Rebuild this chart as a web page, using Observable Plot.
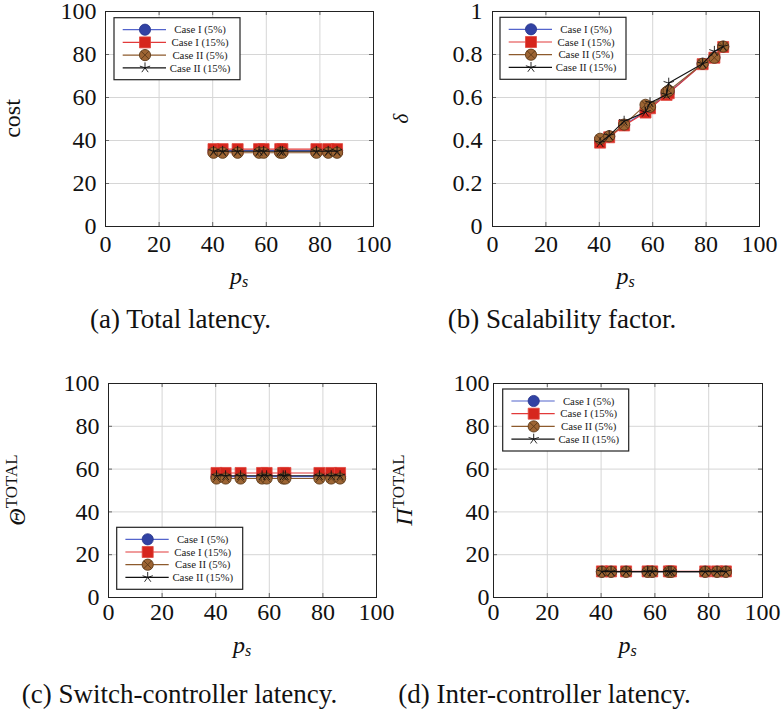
<!DOCTYPE html>
<html><head><meta charset="utf-8">
<script src="https://cdn.jsdelivr.net/npm/d3@7"></script>
<script src="https://cdn.jsdelivr.net/npm/@observablehq/plot@0.6"></script>
<style>
html,body{margin:0;padding:0;background:#fff;}
#root{position:relative;width:781px;height:710px;overflow:hidden;font-family:"Liberation Serif","Times New Roman",serif;color:#111;}
.panel{position:absolute;}
.cap{position:absolute;font-family:"Liberation Serif","Times New Roman",serif;font-size:27px;line-height:27px;white-space:nowrap;color:#111;transform:translateX(-50%);}
svg text, svg tspan{font-family:"Liberation Serif","Times New Roman",serif !important;}
</style></head><body><div id="root"></div>
<script>
// ---------- data ----------
const seriesNames = ["Case I (5%)", "Case I (15%)", "Case II (5%)", "Case II (15%)"];
const ps = [40.3, 43.7, 49.3, 57.3, 59.0, 65.2, 66.0, 78.7, 83.1, 86.4];

// (a) Total latency (cost)
const costCaseI5   = [35.3, 35.3, 35.3, 35.3, 35.3, 35.3, 35.3, 35.3, 35.3, 35.3];
const costCaseI15  = [36.0, 36.0, 36.0, 36.0, 36.0, 36.0, 36.0, 36.0, 36.0, 36.0];
const costCaseII5  = [34.3, 34.3, 34.3, 34.3, 34.3, 34.3, 34.3, 34.3, 34.3, 34.3];
const costCaseII15 = [35.0, 35.0, 35.0, 35.0, 35.0, 35.0, 35.0, 35.0, 35.0, 35.0];

// (b) Scalability factor (delta)
const deltaCaseI5   = [0.395, 0.418, 0.472, 0.535, 0.552, 0.617, 0.622, 0.757, 0.787, 0.836];
const deltaCaseI15  = [0.390, 0.415, 0.470, 0.530, 0.550, 0.612, 0.620, 0.755, 0.785, 0.835];
const deltaCaseII5  = [0.408, 0.420, 0.474, 0.566, 0.557, 0.625, 0.632, 0.757, 0.785, 0.837];
const deltaCaseII15 = [0.390, 0.423, 0.490, 0.532, 0.576, 0.613, 0.667, 0.757, 0.815, 0.837];

// (c) Switch-controller latency (Theta TOTAL)
const thetaCaseI5   = [56.5, 56.5, 56.5, 56.5, 56.5, 56.5, 56.5, 56.5, 56.5, 56.5];
const thetaCaseI15  = [58.2, 58.2, 58.2, 58.2, 58.2, 58.2, 58.2, 58.2, 58.2, 58.2];
const thetaCaseII5  = [55.6, 55.6, 55.6, 55.6, 55.6, 55.6, 55.6, 55.6, 55.6, 55.6];
const thetaCaseII15 = [56.9, 56.9, 56.9, 56.9, 56.9, 56.9, 56.9, 56.9, 56.9, 56.9];

// (d) Inter-controller latency (Pi TOTAL)
const piCaseI5   = [12.1, 12.1, 12.1, 12.1, 12.1, 12.1, 12.1, 12.1, 12.1, 12.1];
const piCaseI15  = [12.2, 12.2, 12.2, 12.2, 12.2, 12.2, 12.2, 12.2, 12.2, 12.2];
const piCaseII5  = [12.0, 12.0, 12.0, 12.0, 12.0, 12.0, 12.0, 12.0, 12.0, 12.0];
const piCaseII15 = [12.1, 12.1, 12.1, 12.1, 12.1, 12.1, 12.1, 12.1, 12.1, 12.1];

const xTicks = [0, 20, 40, 60, 80, 100];
const yTicks100 = [0, 20, 40, 60, 80, 100];
const yTicks1 = [0, 0.2, 0.4, 0.6, 0.8, 1];
const yTickLabels1 = ["0", "0.2", "0.4", "0.6", "0.8", "1"];
const captions = ["(a) Total latency.", "(b) Scalability factor.", "(c) Switch-controller latency.", "(d) Inter-controller latency."];

// ---------- symbols ----------
const symCircle = {draw(ctx, size){const r=Math.sqrt(size/Math.PI); ctx.moveTo(r,0); ctx.arc(0,0,r,0,2*Math.PI); ctx.closePath();}};
const symSquare = {draw(ctx, size){const r=Math.sqrt(size/Math.PI); ctx.rect(-r,-r,2*r,2*r);}};
const symCircleX = {draw(ctx, size){const r=Math.sqrt(size/Math.PI); ctx.moveTo(r,0); ctx.arc(0,0,r,0,2*Math.PI); ctx.closePath();
  const a=r*0.7071; ctx.moveTo(-a,-a); ctx.lineTo(a,a); ctx.moveTo(-a,a); ctx.lineTo(a,-a);}};
const symStar = {draw(ctx, size){const r=Math.sqrt(size/Math.PI); for(let k=0;k<5;k++){const t=-Math.PI/2+k*2*Math.PI/5; ctx.moveTo(0,0); ctx.lineTo(r*Math.cos(t), r*Math.sin(t));}}};

const styles = [
  {line:"#5364cc", fill:"#3142a3", stroke:"#27348a", sym:symCircle, r:5.6, sw:0.8},
  {line:"#e23a3a", fill:"#d6261d", stroke:"#e0473f", sym:symSquare, r:5.5, sw:0.8},
  {line:"#8d5a2c", fill:"#9d6534", stroke:"#5c3a19", sym:symCircleX, r:5.6, sw:0.9},
  {line:"#111111", fill:"none",    stroke:"#111111", sym:symStar,    r:5.4, sw:0.9}
];

const root = document.getElementById("root");
const FONT = "'Liberation Serif', 'Times New Roman', serif";

function makePanel(cfg) {
  const {left, top, width, height, mL, mR, mT, mB, yDomain, yTicks, yFmt, series, xPad, yPad} = cfg;
  const fw = width - mL - mR, fh = height - mT - mB;
  const marks = [
    Plot.gridX(xTicks, {stroke:"#d6d6d6", strokeOpacity:1, strokeWidth:1}),
    Plot.gridY(yTicks, {stroke:"#d6d6d6", strokeOpacity:1, strokeWidth:1}),
    Plot.tickX(xTicks, {x:d=>d, insetTop: fh-4, stroke:"#666", strokeWidth:1}),
    Plot.tickX(xTicks, {x:d=>d, insetBottom: fh-4, stroke:"#666", strokeWidth:1}),
    Plot.tickY(yTicks, {y:d=>d, insetRight: fw-4, stroke:"#666", strokeWidth:1}),
    Plot.tickY(yTicks, {y:d=>d, insetLeft: fw-4, stroke:"#666", strokeWidth:1})
  ];
  series.forEach((vals, i) => {
    const st = styles[i];
    const rows = ps.map((x, j) => ({x, y: vals[j], s: seriesNames[i]}));
    marks.push(Plot.line(rows, {x:"x", y:"y", stroke: st.line, strokeWidth: 1.1}));
    marks.push(Plot.dot(rows, {x:"x", y:"y", symbol: st.sym, r: st.r, fill: st.fill, stroke: st.stroke, strokeWidth: st.sw}));
  });
  marks.push(Plot.frame({stroke:"#222", strokeWidth:1}));
  marks.push(Plot.axisX(xTicks, {anchor:"bottom", tickSize:0, tickPadding:xPad, fontSize:24, fill:"#111", label:null}));
  marks.push(Plot.axisY(yTicks, {anchor:"left", tickSize:0, tickPadding:yPad, fontSize:24, fill:"#111", label:null, tickFormat: yFmt}));
  const chart = Plot.plot({
    width, height, marginLeft:mL, marginRight:mR, marginTop:mT, marginBottom:mB,
    x: {domain:[0,100]}, y: {domain:yDomain},
    style: {fontFamily: FONT, background:"transparent", overflow:"visible", color:"#111"},
    marks
  });
  chart.setAttribute("font-family", FONT);
  d3.select(chart).selectAll("text").style("font-family", FONT);
  const div = document.createElement("div");
  div.className = "panel";
  div.style.left = left + "px"; div.style.top = top + "px";
  div.appendChild(chart);
  root.appendChild(div);
  return {svg: d3.select(chart), fw, fh};
}

function addLegend(svg, x0, y0) {
  const g = svg.append("g").attr("transform", `translate(${x0},${y0})`);
  g.append("rect").attr("width",126).attr("height",62).attr("fill","white").attr("stroke","#222").attr("stroke-width",1.2);
  seriesNames.forEach((name, i) => {
    const y = 12 + i * 12.7, st = styles[i];
    g.append("line").attr("x1",8.7).attr("x2",52).attr("y1",y).attr("y2",y).attr("stroke",st.line).attr("stroke-width",1.2);
    g.append("path").attr("transform",`translate(31,${y})`).attr("d", d3.symbol(st.sym, st.r*st.r*Math.PI)())
      .attr("fill", st.fill).attr("stroke", st.stroke).attr("stroke-width", st.sw);
    g.append("text").attr("x",86).attr("y",y).attr("dy","0.35em").attr("text-anchor","middle")
      .style("font-family",FONT).style("font-size","10.8px").attr("fill","#222").text(name);
  });
}

function addXLabel(svg, cx, y) {
  const t = svg.append("text").attr("x",cx).attr("y",y).attr("text-anchor","middle")
    .style("font-family",FONT).style("font-size","24px").attr("fill","#111");
  t.append("tspan").style("font-style","italic").text("p");
  t.append("tspan").style("font-style","italic").style("font-size","16px").attr("dy",3).text("s");
}

function addYLabel(svg, x, cy, main, sup, italic, size) {
  const t = svg.append("text").attr("transform",`translate(${x},${cy}) rotate(-90)`).attr("text-anchor","middle")
    .style("font-family",FONT).style("font-size",(size||24)+"px").attr("fill","#111");
  t.append("tspan").style("font-style", italic ? "italic" : "normal").text(main);
  if (sup) t.append("tspan").style("font-size","17px").attr("dy",-8).text(sup);
}

const fmt100 = d => String(d);
const fmt1 = d => yTickLabels1[yTicks1.indexOf(d)];

// (a)
let p = makePanel({left:0, top:0, width:390, height:300, mL:105, mR:17, mT:11, mB:74,
  yDomain:[0,100], yTicks:yTicks100, yFmt:fmt100, series:[costCaseI5,costCaseI15,costCaseII5,costCaseII15], xPad:8, yPad:9});
addLegend(p.svg, 114, 17.7);
addXLabel(p.svg, 239, 284);
addYLabel(p.svg, 20, 118.5, "cost", null, false, 24);

// (b)
p = makePanel({left:390, top:0, width:391, height:300, mL:102, mR:22, mT:11, mB:74,
  yDomain:[0,1], yTicks:yTicks1, yFmt:fmt1, series:[deltaCaseI5,deltaCaseI15,deltaCaseII5,deltaCaseII15], xPad:8, yPad:10});
addLegend(p.svg, 110, 17.3);
addXLabel(p.svg, 235.5, 284);
addYLabel(p.svg, 18, 118.5, "δ", null, true, 21);

// (c)
p = makePanel({left:0, top:370, width:390, height:300, mL:108, mR:14, mT:13, mB:73,
  yDomain:[0,100], yTicks:yTicks100, yFmt:fmt100, series:[thetaCaseI5,thetaCaseI15,thetaCaseII5,thetaCaseII15], xPad:5, yPad:9});
addLegend(p.svg, 116.7, 157.3);
addXLabel(p.svg, 242, 283);
addYLabel(p.svg, 25, 120, "Θ", "TOTAL", true, 24);

// (d)
p = makePanel({left:390, top:370, width:391, height:300, mL:103, mR:19, mT:13, mB:73,
  yDomain:[0,100], yTicks:yTicks100, yFmt:fmt100, series:[piCaseI5,piCaseI15,piCaseII5,piCaseII15], xPad:5, yPad:4});
addLegend(p.svg, 112.7, 19);
addXLabel(p.svg, 237.5, 283);
addYLabel(p.svg, 22, 120, "Π", "TOTAL", true, 24);

// captions
const capPos = [[180.5, 306], [562, 306], [179.5, 680.5], [544.5, 680.5]];
captions.forEach((c, i) => {
  const d = document.createElement("div");
  d.className = "cap";
  d.style.left = capPos[i][0] + "px"; d.style.top = capPos[i][1] + "px";
  d.textContent = c;
  root.appendChild(d);
});
</script></body></html>
